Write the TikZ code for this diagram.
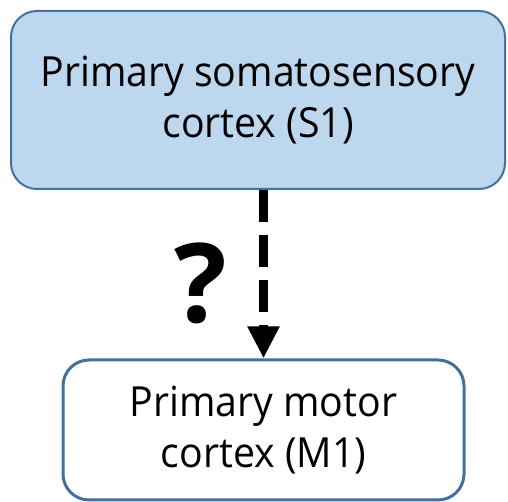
\documentclass[tikz,border=0pt]{standalone}
\usepackage{fontspec}
\setmainfont{Open Sans}
\newfontfamily\labelfont[FakeStretch=0.945]{Open Sans}
\usetikzlibrary{arrows.meta}
\definecolor{boxedge}{RGB}{65,113,156}
\definecolor{boxfill}{RGB}{189,215,238}
\tikzset{
  areabox/.style={draw=boxedge, rounded corners=26pt, align=center,
    inner sep=0pt, font=\labelfont\fontsize{41.5}{51}\selectfont},
  pathway/.style={line width=9pt, dash pattern=on 32pt off 13pt,
    -{Triangle[width=30pt,length=32pt]}},
}
\begin{document}
\begin{tikzpicture}[x=1pt,y=1pt]
  \useasboundingbox (0,0) rectangle (508,502);
  % sensory area
  \node[areabox, fill=boxfill, line width=2pt, minimum width=494pt,
        minimum height=178pt] (s1) at (258,402)
        {Primary somatosensory\\cortex (S1)};
  % motor area
  \node[areabox, fill=white, line width=3pt, minimum width=401pt,
        minimum height=140pt] (m1) at (263.5,72)
        {Primary motor\\cortex (M1)};
  % uncertain projection, straight down onto the motor area
  \draw[pathway] (s1.south -| m1.north) -- (m1.north);
  \node[font=\fontsize{110}{110}\selectfont\bfseries, anchor=base,
        inner sep=0pt] (q) at (201,179) {?};
\end{tikzpicture}
\end{document}
